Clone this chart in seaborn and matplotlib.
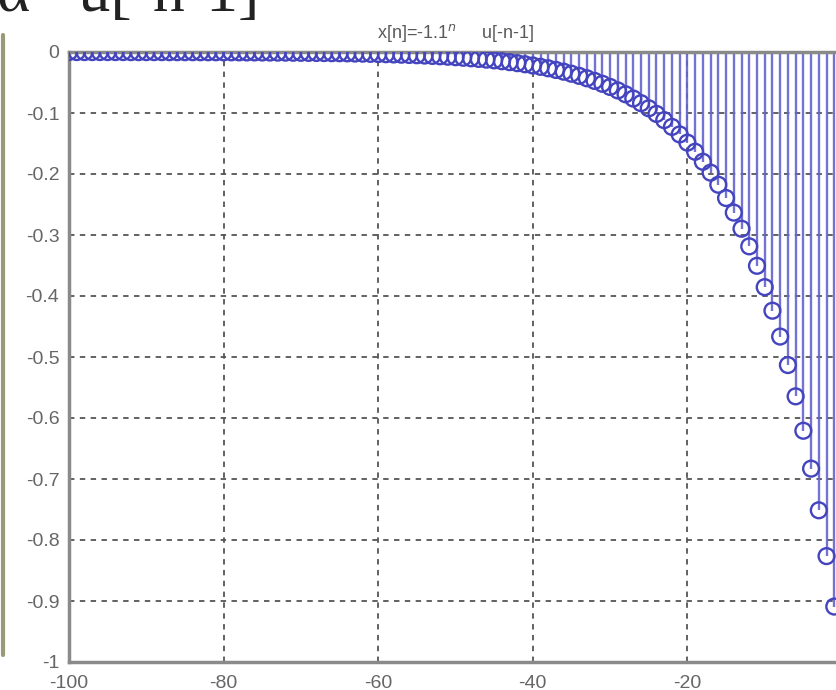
import numpy as np
import pandas as pd
import matplotlib
matplotlib.use("Agg")
import matplotlib.pyplot as plt
import seaborn as sns
from matplotlib.lines import Line2D

# sample index n = -100 .. -1
n_values = list(range(-100, 0))

# x[n] = -1.1^n u[-n-1] (n = -100 .. -1)
x_values = [
    -0.0001, -0.0001, -0.0001, -0.0001, -0.0001, -0.0001, -0.0001, -0.0001, -0.0002, -0.0002,
    -0.0002, -0.0002, -0.0002, -0.0003, -0.0003, -0.0003, -0.0003, -0.0004, -0.0004, -0.0004,
    -0.0005, -0.0005, -0.0006, -0.0007, -0.0007, -0.0008, -0.0009, -0.0010, -0.0010, -0.0012,
    -0.0013, -0.0014, -0.0015, -0.0017, -0.0019, -0.0020, -0.0022, -0.0025, -0.0027, -0.0030,
    -0.0033, -0.0036, -0.0040, -0.0044, -0.0048, -0.0053, -0.0058, -0.0064, -0.0070, -0.0077,
    -0.0085, -0.0094, -0.0103, -0.0113, -0.0125, -0.0137, -0.0151, -0.0166, -0.0183, -0.0201,
    -0.0221, -0.0243, -0.0267, -0.0294, -0.0323, -0.0356, -0.0391, -0.0431, -0.0474, -0.0521,
    -0.0573, -0.0630, -0.0693, -0.0763, -0.0839, -0.0923, -0.1015, -0.1117, -0.1228, -0.1351,
    -0.1486, -0.1635, -0.1799, -0.1978, -0.2176, -0.2394, -0.2633, -0.2897, -0.3186, -0.3505,
    -0.3855, -0.4241, -0.4665, -0.5132, -0.5645, -0.6209, -0.6830, -0.7513, -0.8264, -0.9091,
]

x_ticks = [-100, -80, -60, -40, -20]
y_ticks = [0, -0.1, -0.2, -0.3, -0.4, -0.5, -0.6, -0.7, -0.8, -0.9, -1]
y_ticklabels = ["0", "-0.1", "-0.2", "-0.3", "-0.4", "-0.5", "-0.6", "-0.7", "-0.8", "-0.9", "-1"]

TITLE = "x[n]=-1.1$^{n}$     u[-n-1]"

df = pd.DataFrame({"n": n_values, "x": x_values})

sns.set_theme(style="white")
plt.rcParams["font.family"] = ["Liberation Sans", "DejaVu Sans"]

fig = plt.figure(figsize=(8.37, 6.9), dpi=100)
ax = fig.add_axes([69 / 837, 28 / 690, 773 / 837, 610 / 690])

stem_color = "#6464d0"
marker_color = "#4444bf"

# stems from the zero baseline
ax.vlines(df["n"], df["x"], 0, color=stem_color, linewidth=1.7, alpha=0.9, zorder=2)
ax.axhline(0, color=stem_color, linewidth=1.8, zorder=2)

# open circle markers
sns.scatterplot(
    data=df, x="n", y="x", ax=ax,
    marker="o", s=130, facecolor="none",
    edgecolor=marker_color, linewidth=1.7, zorder=3, legend=False,
)

ax.set_xlim(-100, 0)
ax.set_ylim(-1, 0)
ax.set_xticks(x_ticks)
ax.set_xticklabels([str(t) for t in x_ticks])
ax.set_yticks(y_ticks)
ax.set_yticklabels(y_ticklabels)
ax.set_xlabel("")
ax.set_ylabel("")

# MATLAB-style dotted grid
ax.grid(True, linestyle=(0, (3, 3)), color="#555555", linewidth=1.3, zorder=1)
ax.set_axisbelow(True)

for side in ["left", "bottom", "top", "right"]:
    ax.spines[side].set_color("#8a8a8a")
    ax.spines[side].set_linewidth(2.5)

ax.tick_params(axis="both", length=0, labelsize=14, colors="#666666")
ax.tick_params(axis="y", pad=7)
ax.tick_params(axis="x", pad=9)

ax.set_title(TITLE, fontsize=13, color="#5a5a5a", pad=10)

# slide decorations: large formula cut off at the top, panel edge on the left
fig.text(-0.004, 1 - 11 / 690, "\u03b1   u[-n-1]", family=["Liberation Serif", "DejaVu Serif"],
         fontsize=46, color="#222222", va="baseline", ha="left")
fig.add_artist(Line2D([3 / 837, 3 / 837], [1 - 35 / 690, 1 - 655 / 690],
                      color="#9a9a78", linewidth=3, transform=fig.transFigure))

fig.savefig("out.png", dpi=100)
plt.close(fig)
